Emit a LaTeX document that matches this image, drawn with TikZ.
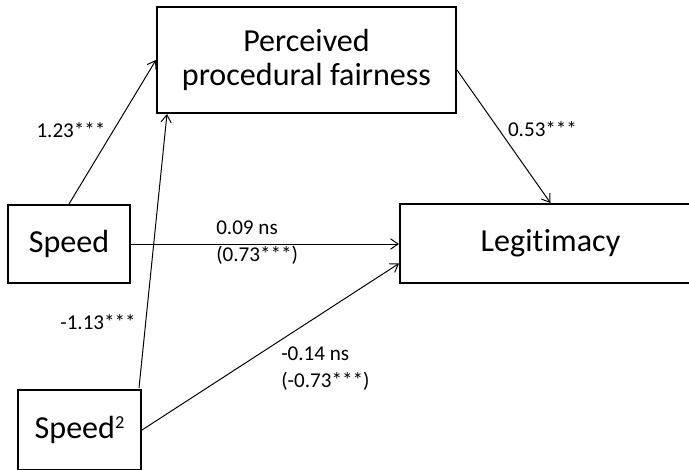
\documentclass[tikz,border=0pt]{standalone}
\usepackage{fontspec}
\setmainfont{Carlito}[RawFeature={-liga;-clig;-calt;-dlig}]
\usetikzlibrary{arrows.meta,calc}

\begin{document}
\begin{tikzpicture}[x=0.025cm,y=0.025cm,
  box/.style={draw, line width=1.4pt, inner sep=0pt, align=center,
    font=\fontsize{22.8}{24}\selectfont},
  link/.style={line width=0.7pt, -{Straight Barb[length=1.9mm,width=2.6mm]}},
  coef/.style={inner sep=0pt, align=left, font=\fontsize{15}{19.2}\selectfont}]
\clip (0,0) rectangle (689,469);
\node[box, minimum width=7.475cm, minimum height=2.65cm] (ppf) at (306.5,409)
  {Perceived\\procedural fairness};
\node[box, minimum width=3.05cm, minimum height=1.95cm] (speed) at (69,225) {Speed};
\node[box, minimum width=3.075cm, minimum height=2cm] (speedsq) at (79.5,39)
  {Speed\raisebox{7pt}{\fontsize{13}{13}\selectfont 2}};
\node[box, minimum width=7.525cm, minimum height=1.975cm] (legit) at (550.5,225.5)
  {Legit\kern0.4pt imacy};
\draw[link] (speed.north) -- (ppf.west);
\draw[link] ($(speedsq.north east)+(-3,1)$) -- ($(ppf.south west)+(11,0)$);
\draw[link] (speed.east) -- (speed.east -| legit.west);
\draw[link] (speedsq.east) -- ($(legit.west)+(0,-20)$);
\draw[link] ($(ppf.east)+(0,-10)$) -- (legit.north);
\node[coef] (c1) at (71,338.5) {1.23***};
\node[coef] (c2) at (98,147) {-1.13***};
\node[coef] (c3) at (542.5,339.5) {0.53***};
\node[coef, anchor=west] (c4) at (216,226) {0.09 ns\\(0.73***)};
\node[coef, anchor=west] (c5) at (281,100) {-0.14 ns\\(-0.73***)};
\end{tikzpicture}
\end{document}
